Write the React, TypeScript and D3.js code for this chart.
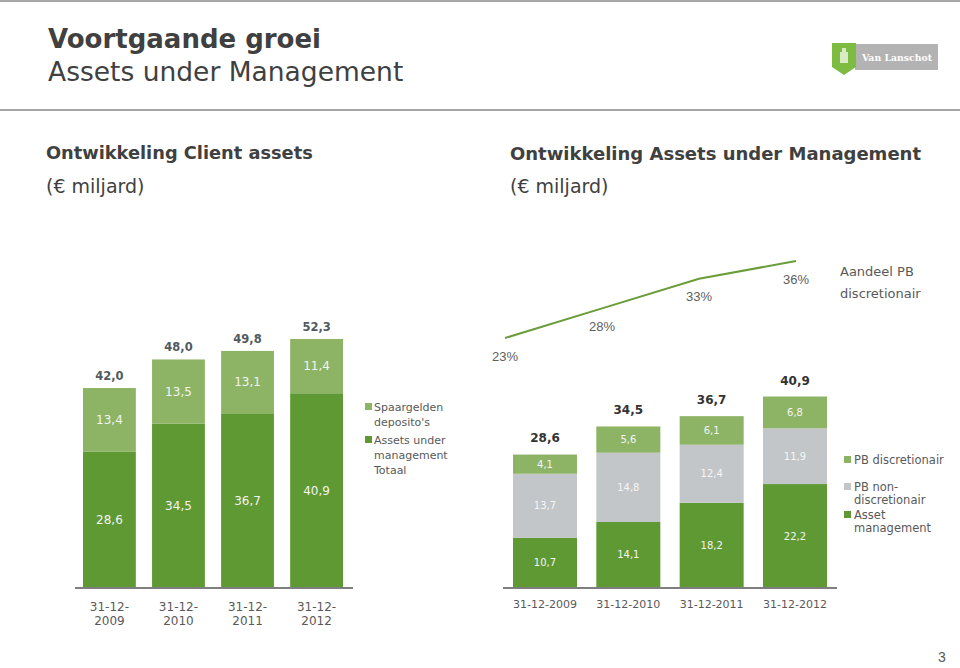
import React from 'react';
import * as d3 from 'd3';

const leftCategories = ['31-12-2009', '31-12-2010', '31-12-2011', '31-12-2012'];
const spaargelden = [13.4, 13.5, 13.1, 11.4];
const assetsUnderMgmt = [28.6, 34.5, 36.7, 40.9];
const clientTotals = [42.0, 48.0, 49.8, 52.3];

const rightCategories = ['31-12-2009', '31-12-2010', '31-12-2011', '31-12-2012'];
const assetManagement = [10.7, 14.1, 18.2, 22.2];
const pbNonDiscretionair = [13.7, 14.8, 12.4, 11.9];
const pbDiscretionair = [4.1, 5.6, 6.1, 6.8];
const aumTotals = [28.6, 34.5, 36.7, 40.9];
const aandeelPB = [23, 28, 33, 36];

const leftLegend = [
  { key: 'spaar', lines: ['Spaargelden', "deposito's"] },
  { key: 'aum', lines: ['Assets under', 'management'] },
  { key: 'tot', lines: ['Totaal'] },
];
const rightLegend = [
  { key: 'pbDisc', lines: ['PB discretionair'] },
  { key: 'pbNon', lines: ['PB non-', 'discretionair'] },
  { key: 'am', lines: ['Asset', 'management'] },
];

const DARK = '#5f9933';
const LIGHT = '#8db364';
const GREY = '#c2c6c8';
const FONT = '"DejaVu Sans", Verdana, sans-serif';
const fmt = (v: number) => d3.format('.1f')(v).replace('.', ',');

export default function App() {
  // Left chart
  const baseY = 588;
  const xL = d3.scaleBand<string>().domain(leftCategories).range([83, 343]).paddingInner(0.235).paddingOuter(0);
  const yL = d3.scaleLinear().domain([0, 52.3]).range([baseY, 339]);
  const leftRows = leftCategories.map((c, i) => ({ cat: c, aum: assetsUnderMgmt[i], spaar: spaargelden[i] }));
  const leftStack = d3.stack<any>().keys(['aum', 'spaar'])(leftRows);
  const leftColors: Record<string, string> = { aum: DARK, spaar: LIGHT };

  // Right chart
  const xR = d3.scaleBand<string>().domain(rightCategories).range([513, 827]).paddingInner(0.232).paddingOuter(0);
  const yR = d3.scaleLinear().domain([0, 40.9]).range([baseY, 396.5]);
  const rightRows = rightCategories.map((c, i) => ({
    cat: c,
    am: assetManagement[i],
    pbNon: pbNonDiscretionair[i],
    pbDisc: pbDiscretionair[i],
  }));
  const rightStack = d3.stack<any>().keys(['am', 'pbNon', 'pbDisc'])(rightRows);
  const rightColors: Record<string, string> = { am: DARK, pbNon: GREY, pbDisc: LIGHT };

  // Line
  const xLine = d3.scalePoint<string>().domain(rightCategories).range([505, 796]);
  const yLine = d3.scaleLinear().domain([23, 36]).range([338, 261]);
  const linePath = d3
    .line<number>()
    .x((_, i) => xLine(rightCategories[i]) as number)
    .y((d) => yLine(d))(aandeelPB);

  return (
    <svg
      width={960}
      height={668}
      style={{ position: 'absolute', left: 0, top: 0, background: '#fff' }}
      fontFamily={FONT}
    >
      <rect x={0} y={0} width={960} height={668} fill="#fff" />
      {/* header lines */}
      <line x1={0} x2={960} y1={1} y2={1} stroke="#a6a6a6" strokeWidth={2} />
      <line x1={0} x2={960} y1={110} y2={110} stroke="#a6a6a6" strokeWidth={2} />

      {/* titles */}
      <text x={48} y={48} fontSize={26} fontWeight="bold" fill="#404040">Voortgaande groei</text>
      <text x={48} y={81} fontSize={26.5} fill="#404040">Assets under Management</text>

      {/* logo */}
      <g>
        <rect x={855} y={44} width={83} height={26} fill="#b3b3b3" />
        <path d="M832,43 L856,43 L856,67 L844,75 L832,67 Z" fill="#7dbb42" />
        <path d="M840,52 L848,52 L848,63 L840,63 Z M842,48 L846,48 L846,52 L842,52 Z" fill="#e8f3dc" opacity={0.85} />
        <text x={897} y={61} fontSize={10} fontWeight="bold" fill="#fff" textAnchor="middle" textLength={70} lengthAdjust="spacingAndGlyphs" fontFamily='"DejaVu Serif", "Liberation Serif", serif'>Van Lanschot</text>
      </g>

      {/* subtitles */}
      <text x={46} y={159} fontSize={17.8} fontWeight="bold" fill="#404040">Ontwikkeling Client assets</text>
      <text x={46} y={193} fontSize={19} fill="#404040">(€ miljard)</text>
      <text x={510} y={160} fontSize={18} fontWeight="bold" fill="#404040">Ontwikkeling Assets under Management</text>
      <text x={510} y={193} fontSize={19} fill="#404040">(€ miljard)</text>

      {/* Left chart bars */}
      {leftStack.map((layer) => (
        <g key={layer.key}>
          {layer.map((d: any, i: number) => {
            const x = xL(leftCategories[i]) as number;
            const y0 = yL(d[0]);
            const y1 = yL(d[1]);
            const v = d[1] - d[0];
            return (
              <g key={i}>
                <rect x={x} y={y1} width={xL.bandwidth()} height={y0 - y1} fill={leftColors[layer.key]} />
                <text
                  x={x + xL.bandwidth() / 2}
                  y={(y0 + y1) / 2}
                  textAnchor="middle"
                  dominantBaseline="central"
                  fontSize={12}
                  fill="#f3f3f3"
                >
                  {fmt(v)}
                </text>
              </g>
            );
          })}
        </g>
      ))}
      {clientTotals.map((t, i) => (
        <text
          key={i}
          x={(xL(leftCategories[i]) as number) + xL.bandwidth() / 2}
          y={yL(t) - 12}
          textAnchor="middle"
          dominantBaseline="central"
          fontSize={11.5}
          fontWeight="bold"
          fill="#525a60"
        >
          {fmt(t)}
        </text>
      ))}
      <line x1={75} x2={353} y1={baseY} y2={baseY} stroke="#7f7f7f" strokeWidth={2} />
      {leftCategories.map((c, i) => {
        const cx = (xL(c) as number) + xL.bandwidth() / 2;
        const parts = c.split('-');
        return (
          <text key={c} x={cx} textAnchor="middle" fontSize={12} fill="#595959">
            <tspan x={cx} y={611}>{`${parts[0]}-${parts[1]}-`}</tspan>
            <tspan x={cx} y={625}>{parts[2]}</tspan>
          </text>
        );
      })}

      {/* Left legend */}
      {leftLegend.map((item, i) => {
        const yTop = [407, 440, 470][i];
        return (
          <g key={item.key}>
            {item.key !== 'tot' && (
              <rect x={365} y={yTop - 4} width={7} height={7} fill={item.key === 'spaar' ? LIGHT : DARK} />
            )}
            {item.lines.map((l, j) => (
              <text key={j} x={374} y={yTop + j * 15} dominantBaseline="central" fontSize={11} fill="#595959">
                {l}
              </text>
            ))}
          </g>
        );
      })}

      {/* Line */}
      <path d={linePath as string} fill="none" stroke="#6a9c3a" strokeWidth={2} />
      {aandeelPB.map((v, i) => (
        <text
          key={i}
          x={xLine(rightCategories[i]) as number}
          y={yLine(v) + 18}
          textAnchor="middle"
          dominantBaseline="central"
          fontSize={13}
          fill="#606060"
          fontFamily='"Liberation Sans", Arial, sans-serif'
        >
          {`${v}%`}
        </text>
      ))}
      <text x={840} y={271} fontSize={13} fill="#595959" dominantBaseline="central">Aandeel PB</text>
      <text x={840} y={293} fontSize={13} fill="#595959" dominantBaseline="central">discretionair</text>

      {/* Right chart bars */}
      {rightStack.map((layer) => (
        <g key={layer.key}>
          {layer.map((d: any, i: number) => {
            const x = xR(rightCategories[i]) as number;
            const y0 = yR(d[0]);
            const y1 = yR(d[1]);
            const v = d[1] - d[0];
            return (
              <g key={i}>
                <rect x={x} y={y1} width={xR.bandwidth()} height={y0 - y1} fill={rightColors[layer.key]} />
                <text
                  x={x + xR.bandwidth() / 2}
                  y={(y0 + y1) / 2}
                  textAnchor="middle"
                  dominantBaseline="central"
                  fontSize={10}
                  fill="#f5f5f5"
                >
                  {fmt(v)}
                </text>
              </g>
            );
          })}
        </g>
      ))}
      {aumTotals.map((t, i) => (
        <text
          key={i}
          x={(xR(rightCategories[i]) as number) + xR.bandwidth() / 2}
          y={yR(t) - 16}
          textAnchor="middle"
          dominantBaseline="central"
          fontSize={12}
          fontWeight="bold"
          fill="#333"
        >
          {fmt(t)}
        </text>
      ))}
      <line x1={503} x2={837} y1={baseY} y2={baseY} stroke="#7f7f7f" strokeWidth={2} />
      {rightCategories.map((c) => (
        <text
          key={c}
          x={(xR(c) as number) + xR.bandwidth() / 2}
          y={604}
          textAnchor="middle"
          dominantBaseline="central"
          fontSize={11}
          fill="#595959"
        >
          {c}
        </text>
      ))}

      {/* Right legend */}
      {rightLegend.map((item, i) => {
        const yTop = [460, 487, 515][i];
        const col = rightColors[item.key];
        return (
          <g key={item.key}>
            <rect x={844} y={yTop - 4} width={7} height={7} fill={col} />
            {item.lines.map((l, j) => (
              <text key={j} x={854} y={yTop + j * 13} dominantBaseline="central" fontSize={11.5} fill="#595959">
                {l}
              </text>
            ))}
          </g>
        );
      })}

      <text x={942} y={662} fontSize={14} fill="#595959" textAnchor="middle" fontFamily='"Liberation Sans", Arial, sans-serif'>3</text>
    </svg>
  );
}
